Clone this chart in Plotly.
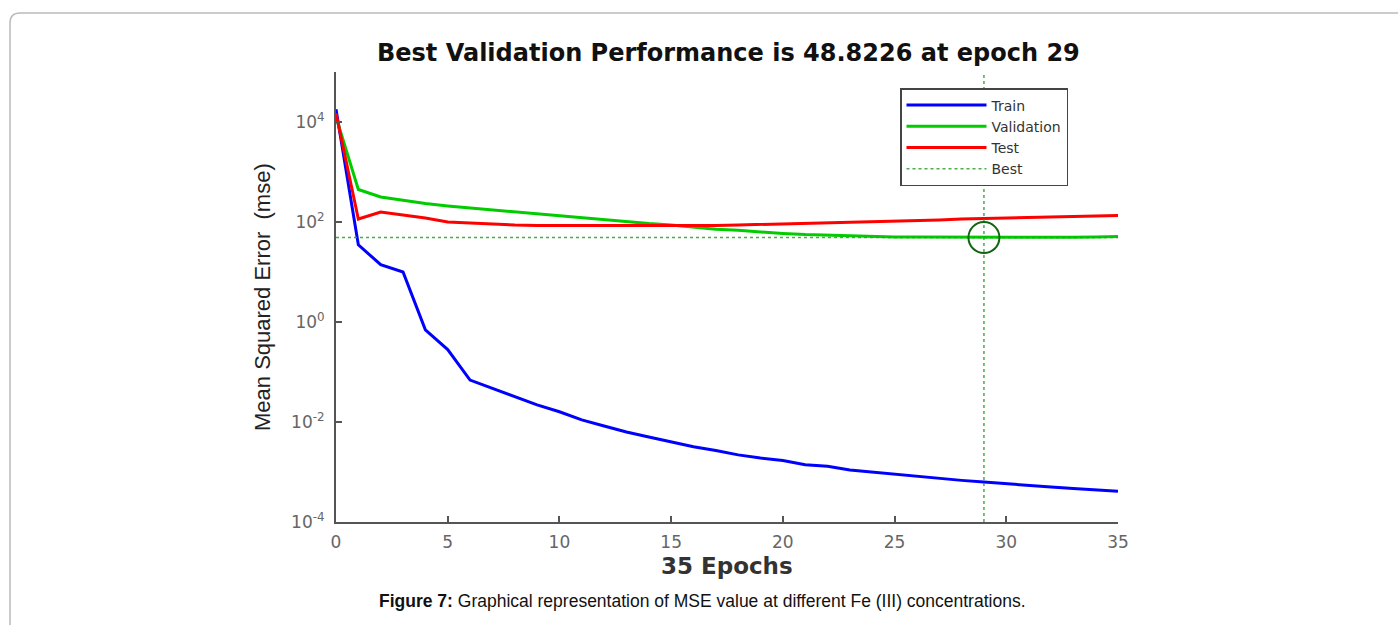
import plotly.graph_objects as go

epochs = list(range(0, 36))
train_mse = [1.8e4, 35, 14, 10, 0.7, 0.28, 0.069, 0.047, 0.032, 0.022, 0.016,
             0.011, 0.0083, 0.0063, 0.005, 0.004, 0.0032, 0.0027, 0.0022, 0.0019,
             0.0017, 0.0014, 0.0013, 0.0011, 0.001, 0.00089, 0.00081, 0.00074,
             0.00068, 0.00063, 0.00058, 0.00054, 0.0005, 0.00047, 0.00044, 0.00041]
val_mse = [12600, 447, 316, 269, 234, 209, 191, 174, 158, 145, 135, 123, 112, 102,
           93, 87, 79, 72, 68, 63, 59, 56, 54, 52.5, 51.3, 50.1, 50, 49.8, 49.5,
           48.8226, 49, 49.1, 49.2, 49.3, 50, 51]
test_mse = [15000, 115, 158, 138, 120, 100, 95, 91, 87, 85, 85, 83, 83, 83, 83, 83,
            84, 85, 87, 89, 91, 93, 95, 98, 100, 105, 107, 110, 115, 117, 120, 123,
            126, 129, 132, 135]
best_epoch = 29
best_perf = 48.8226
x_range = [0, 35]
y_range_vals = [1e-4, 1e5]
ytick_vals = [1e-4, 1e-2, 1, 1e2, 1e4]
ytick_text = ["10<sup>-4</sup>", "10<sup>-2</sup>", "10<sup>0</sup>", "10<sup>2</sup>", "10<sup>4</sup>"]
xtick_vals = [0, 5, 10, 15, 20, 25, 30, 35]

W, H = 1398, 625
def px(x):
    return x / W
def py(y):
    return 1 - y / H

FONT = "Arial, Liberation Sans, sans-serif"
WIDE = "DejaVu Sans, Verdana, sans-serif"
best_color = "rgba(40,160,40,0.85)"

fig = go.Figure()
fig.add_trace(go.Scatter(x=epochs, y=train_mse, mode="lines", name="Train",
                         line=dict(color="#0000ff", width=3)))
fig.add_trace(go.Scatter(x=epochs, y=val_mse, mode="lines", name="Validation",
                         line=dict(color="#00cc00", width=3)))
fig.add_trace(go.Scatter(x=epochs, y=test_mse, mode="lines", name="Test",
                         line=dict(color="#ff0000", width=3)))
fig.add_trace(go.Scatter(x=x_range, y=[best_perf, best_perf], mode="lines", name="Best",
                         line=dict(color=best_color, width=1.5, dash="dot")))
fig.add_trace(go.Scatter(x=[best_epoch, best_epoch], y=y_range_vals, mode="lines",
                         showlegend=False, line=dict(color=best_color, width=1.5, dash="dot")))
fig.add_trace(go.Scatter(x=[best_epoch], y=[best_perf], mode="markers", showlegend=False,
                         marker=dict(symbol="circle-open", size=31,
                                     line=dict(color="#116611", width=2), color="#116611")))

axis_common = dict(showgrid=False, zeroline=False, showline=True, linecolor="#555",
                   linewidth=2, ticks="inside", tickcolor="#555", ticklen=6, tickwidth=1.5,
                   tickfont=dict(family=WIDE, size=17, color="#666"))

fig.update_layout(
    width=W, height=H,
    margin=dict(l=0, r=0, t=0, b=0, autoexpand=False),
    paper_bgcolor="white", plot_bgcolor="white",
    showlegend=True,
    legend=dict(x=px(900), y=py(88), xanchor="left", yanchor="top",
                bgcolor="white", bordercolor="#444", borderwidth=1.5,
                font=dict(family=WIDE, size=14, color="#333"),
                tracegroupgap=0, itemwidth=80),
    xaxis=dict(domain=[px(336), px(1118)], range=x_range, tickvals=xtick_vals,
               ticklabelstandoff=4, **axis_common),
    yaxis=dict(type="log", domain=[py(522), py(72)], range=[-4, 5],
               tickvals=ytick_vals, ticktext=ytick_text, ticklabelstandoff=6,
               **axis_common),
    annotations=[
        dict(text="<b>Best Validation Performance is 48.8226 at epoch 29</b>",
             x=px(728), y=py(53), xref="paper", yref="paper", showarrow=False,
             xanchor="center", yanchor="middle",
             font=dict(family=WIDE, size=24, color="#111")),
        dict(text="<b>35 Epochs</b>", x=px(727), y=py(566), xref="paper", yref="paper",
             xanchor="center", yanchor="middle", showarrow=False,
             font=dict(family=WIDE, size=23, color="#333")),
        dict(text="Mean Squared Error  (mse)", x=px(262), y=py(297), xref="paper",
             yref="paper", showarrow=False, textangle=-90, xanchor="center", yanchor="middle",
             font=dict(family=FONT, size=22, color="#222")),
        dict(text="<b>Figure 7:</b> Graphical representation of MSE value at different Fe (III) concentrations.",
             x=px(702), y=py(601), xref="paper", yref="paper", showarrow=False,
             xanchor="center", yanchor="middle",
             font=dict(family=FONT, size=17.5, color="#111")),
    ],
    shapes=[
        dict(type="path", xref="paper", yref="paper",
             path=f"M 1.02,{py(13)} L {px(20)},{py(13)} Q {px(10)},{py(13)} {px(10)},{py(23)} L {px(10)},-0.02",
             line=dict(color="#bbbbbb", width=1.5)),
    ],
)

fig.write_html("out.html", config={"displayModeBar": False},
               post_script="document.body.style.margin='0';document.body.style.overflow='hidden';document.documentElement.style.overflow='hidden';")
